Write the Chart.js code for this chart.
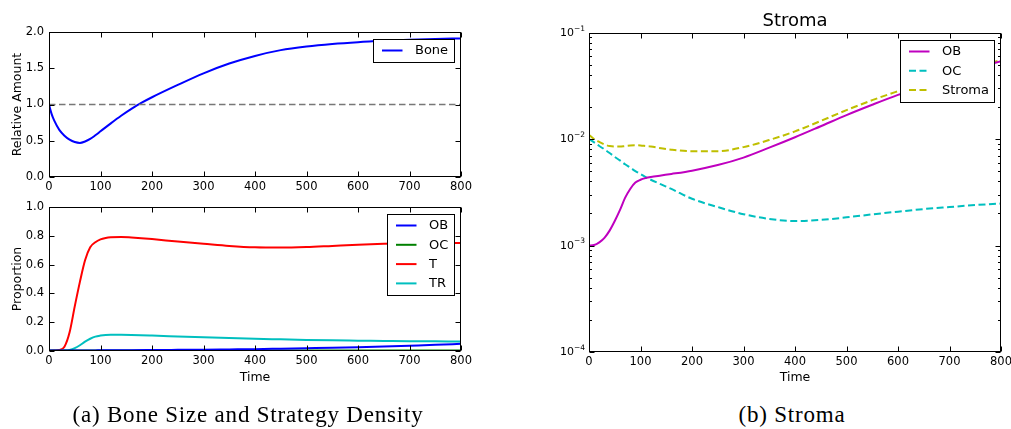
<!DOCTYPE html>
<html><head><meta charset="utf-8">
<script src="https://cdn.jsdelivr.net/npm/chart.js@4.4.0/dist/chart.umd.min.js"></script>
<style>
html,body{margin:0;padding:0;background:#fff;width:1011px;height:429px;overflow:hidden;position:relative;}
canvas{position:absolute;}
.cap{position:absolute;top:403px;font-family:"Liberation Serif",serif;font-size:23px;line-height:23px;letter-spacing:0.8px;color:#000;white-space:nowrap;transform:translateX(-50%);}
</style></head><body>
<canvas id="c1" width="480" height="200" style="left:0;top:0"></canvas>
<canvas id="c2" width="480" height="200" style="left:0;top:195px"></canvas>
<canvas id="c3" width="481" height="400" style="left:540px;top:0"></canvas>
<div class="cap" style="left:248px">(a) Bone Size and Strategy Density</div>
<div class="cap" style="left:792px">(b) Stroma</div>
<script>
// ---- data ----
const timeBone = [0,5,10,20,30,40,50,60,70,80,90,100,120,140,160,180,200,250,300,350,400,450,500,550,600,650,700,750,800];
const boneAmount = [1.0,0.87,0.78,0.65,0.57,0.515,0.482,0.47,0.49,0.525,0.575,0.63,0.74,0.845,0.94,1.025,1.10,1.27,1.43,1.565,1.67,1.75,1.80,1.835,1.86,1.878,1.892,1.903,1.912];
const boneRefLevel = 1.0;

const timeProp = [0,10,20,30,40,50,60,70,80,90,100,110,120,140,160,200,250,300,350,400,450,500,550,600,650,700,750,800];
const propOB = [0.004,0.004,0.004,0.004,0.004,0.004,0.004,0.004,0.004,0.004,0.005,0.005,0.005,0.005,0.006,0.007,0.008,0.009,0.011,0.013,0.016,0.019,0.022,0.026,0.031,0.037,0.043,0.05];
const propOC = [0.003,0.003,0.003,0.003,0.003,0.003,0.003,0.003,0.003,0.003,0.003,0.003,0.003,0.003,0.003,0.003,0.003,0.003,0.003,0.003,0.003,0.003,0.003,0.003,0.003,0.003,0.003,0.003];
const propT = [0.002,0.003,0.007,0.03,0.13,0.31,0.48,0.63,0.72,0.755,0.775,0.785,0.79,0.792,0.788,0.777,0.76,0.745,0.73,0.72,0.718,0.722,0.73,0.738,0.744,0.748,0.75,0.75];
const propTR = [0.002,0.002,0.002,0.003,0.008,0.02,0.04,0.065,0.085,0.1,0.107,0.111,0.112,0.112,0.111,0.107,0.101,0.095,0.09,0.085,0.081,0.077,0.074,0.072,0.07,0.068,0.067,0.066];

const timeStroma = [0,10,20,30,40,50,60,70,80,90,100,110,120,140,160,200,250,300,350,400,450,500,550,600,650,700,750,800];
const stromaOB = [1.0e-3,1.01e-3,1.07e-3,1.18e-3,1.38e-3,1.7e-3,2.15e-3,2.8e-3,3.4e-3,3.9e-3,4.15e-3,4.3e-3,4.4e-3,4.55e-3,4.7e-3,5.05e-3,5.7e-3,6.7e-3,8.3e-3,1.04e-2,1.32e-2,1.68e-2,2.1e-2,2.6e-2,3.15e-2,3.8e-2,4.6e-2,5.4e-2];
const stromaOC = [1.0e-2,9.3e-3,8.6e-3,8.0e-3,7.4e-3,6.8e-3,6.3e-3,5.8e-3,5.4e-3,5.0e-3,4.7e-3,4.4e-3,4.15e-3,3.75e-3,3.4e-3,2.75e-3,2.3e-3,1.97e-3,1.78e-3,1.7e-3,1.74e-3,1.84e-3,1.96e-3,2.08e-3,2.2e-3,2.3e-3,2.4e-3,2.48e-3];
const stromaStroma = [1.1e-2,1.0e-2,9.4e-3,8.9e-3,8.6e-3,8.5e-3,8.5e-3,8.6e-3,8.7e-3,8.75e-3,8.7e-3,8.6e-3,8.5e-3,8.2e-3,7.95e-3,7.7e-3,7.7e-3,8.4e-3,9.8e-3,1.18e-2,1.48e-2,1.87e-2,2.32e-2,2.82e-2,3.4e-2,4.0e-2,4.7e-2,5.55e-2];

const timeTicks = [0,100,200,300,400,500,600,700,800];
const boneTicks = [0,0.5,1.0,1.5,2.0];
const propTicks = [0,0.2,0.4,0.6,0.8,1.0];
const stromaTickValues = [1e-4,1e-3,1e-2,1e-1];
const stromaTickBase = '10';
const stromaTickExponents = ['\u22124','\u22123','\u22122','\u22121'];

// ---- helpers ----
Chart.defaults.font.family = '"DejaVu Sans", sans-serif';
Chart.defaults.color = '#000';
const pts = (xs, ys) => xs.map((x,i)=>({x, y: ys[i]}));
const TICK_FONT = {size: 11.5};
const TITLE_FONT = {size: 12.5};

const framePlugin = {
  id: 'frame',
  afterDraw(chart) {
    const {ctx, chartArea: ca} = chart;
    const L = Math.round(ca.left)+0.5, R = Math.round(ca.right)-0.5, T = Math.round(ca.top)+0.5, B = Math.round(ca.bottom)-0.5;
    const xs = chart.scales.x, ys = chart.scales.y;
    ctx.save();
    ctx.strokeStyle = '#000'; ctx.lineWidth = 1;
    ctx.beginPath();
    xs.ticks.forEach(t => {
      const p = Math.round(xs.getPixelForValue(t.value)) + 0.5;
      ctx.moveTo(p, B); ctx.lineTo(p, B-5);
      ctx.moveTo(p, T); ctx.lineTo(p, T+5);
    });
    ys.ticks.forEach(t => {
      const p = Math.round(ys.getPixelForValue(t.value)) + 0.5;
      ctx.moveTo(L, p); ctx.lineTo(L+5, p);
      ctx.moveTo(R, p); ctx.lineTo(R-5, p);
    });
    if (ys.type === 'logarithmic') {
      for (let d = -4; d < -1; d++) {
        for (let k = 2; k <= 9; k++) {
          const v = k * Math.pow(10, d);
          const p = Math.round(ys.getPixelForValue(v)) + 0.5;
          ctx.moveTo(L, p); ctx.lineTo(L+2.5, p);
          ctx.moveTo(R, p); ctx.lineTo(R-2.5, p);
        }
      }
    }
    ctx.stroke();
    ctx.strokeRect(L, T, R-L, B-T);
    // power-of-ten labels for the log axis
    if (ys.type === 'logarithmic') {
      ctx.fillStyle = '#000';
      ctx.textBaseline = 'middle';
      ctx.textAlign = 'left';
      ys.ticks.forEach((t, i) => {
        const p = ys.getPixelForValue(t.value);
        ctx.font = '7.5px "DejaVu Sans"';
        const ew = ctx.measureText(stromaTickExponents[i]).width;
        ctx.font = '11px "DejaVu Sans"';
        const bw = ctx.measureText(stromaTickBase).width;
        const xe = ca.left - 4;
        ctx.fillText(stromaTickBase, xe - ew - bw, p + 0.5);
        ctx.font = '7.5px "DejaVu Sans"';
        ctx.fillText(stromaTickExponents[i], xe - ew, p - 4);
      });
    }
    ctx.restore();
  }
};

const boxLegendPlugin = {
  id: 'boxLegend',
  afterDatasetsDraw(chart) {
    const o = chart.options.plugins.boxLegend;
    if (!o || !o.display) return;
    const {ctx, chartArea: ca} = chart;
    const items = chart.data.datasets.filter(d => !d.skipLegend);
    ctx.save();
    ctx.font = '13px "DejaVu Sans"';
    const tw = Math.max(...items.map(d => ctx.measureText(d.label).width));
    const padL = 8.5, sample = 20.5, gap = 12.5, padR = 6, rowH = 19.3, padT = 11, padB = 12;
    const w = Math.round(padL + sample + gap + tw + padR);
    const h = Math.round(padT + padB + (items.length-1)*rowH);
    const x0 = Math.round(ca.right - 7 - w) + 0.5, y0 = Math.round(ca.top + 7) + 0.5;
    ctx.fillStyle = '#fff'; ctx.fillRect(x0, y0, w, h);
    ctx.strokeStyle = '#000'; ctx.lineWidth = 1; ctx.strokeRect(x0, y0, w, h);
    items.forEach((d, i) => {
      const cy = y0 + padT + i*rowH;
      ctx.beginPath();
      ctx.strokeStyle = d.borderColor; ctx.lineWidth = d.borderWidth;
      ctx.setLineDash(d.borderDash || []);
      ctx.moveTo(x0 + padL, cy); ctx.lineTo(x0 + padL + sample, cy); ctx.stroke();
      ctx.setLineDash([]);
      ctx.fillStyle = '#000'; ctx.textBaseline = 'middle'; ctx.textAlign = 'left';
      ctx.fillText(d.label, x0 + padL + sample + gap, cy + 0.5);
    });
    ctx.restore();
  }
};

function lineDs(label, data, color, dash) {
  return {label, data, borderColor: color, backgroundColor: color, borderWidth: 2, pointRadius: 0,
    borderDash: dash || [], cubicInterpolationMode: 'monotone', fill: false};
}

function xScale(height, showTitle, titlePadBottom) {
  return {
    type: 'linear', min: 0, max: 800,
    afterBuildTicks: s => { s.ticks = timeTicks.map(v => ({value: v})); },
    ticks: {font: TICK_FONT, padding: 3, maxRotation: 0, autoSkip: false},
    grid: {display: false, drawTicks: false},
    border: {display: false},
    title: {display: showTitle, text: 'Time', font: TITLE_FONT, padding: {top: 0, bottom: titlePadBottom || 0}},
    afterFit: s => { s.height = height; }
  };
}
function yScale(min, max, ticks, title, fmt) {
  return {
    type: 'linear', min, max,
    afterBuildTicks: s => { s.ticks = ticks.map(v => ({value: v})); },
    ticks: {font: TICK_FONT, padding: 5, callback: fmt},
    grid: {display: false, drawTicks: false},
    border: {display: false},
    title: {display: !!title, text: title, font: TITLE_FONT, padding: {top: 10.5, bottom: 0}},
    afterFit: s => { s.width = 49; }
  };
}
const common = {
  responsive: false, animation: false, devicePixelRatio: 1,
  events: []
};

// ---- chart 1: bone ----
new Chart(document.getElementById('c1'), {
  type: 'line',
  data: {datasets: [
    Object.assign(lineDs('', [{x:0,y:boneRefLevel},{x:800,y:boneRefLevel}], '#777', [6.5,3.5]), {borderWidth: 1.5, skipLegend: true, cubicInterpolationMode: 'default', tension: 0}),
    lineDs('Bone', pts(timeBone, boneAmount), '#0000ff')
  ]},
  options: Object.assign({}, common, {
    layout: {padding: {top: 32, right: 19, left: 0, bottom: 0}},
    scales: {
      x: xScale(23, false),
      y: yScale(0, 2, boneTicks, 'Relative Amount', v => v.toFixed(1))
    },
    plugins: {legend: {display: false}, tooltip: {enabled: false}, boxLegend: {display: true}}
  }),
  plugins: [boxLegendPlugin, framePlugin]
});

// ---- chart 2: proportions ----
new Chart(document.getElementById('c2'), {
  type: 'line',
  data: {datasets: [
    lineDs('OB', pts(timeProp, propOB), '#0000ff'),
    lineDs('OC', pts(timeProp, propOC), '#008000'),
    lineDs('T', pts(timeProp, propT), '#ff0000'),
    lineDs('TR', pts(timeProp, propTR), '#00bfbf')
  ]},
  options: Object.assign({}, common, {
    layout: {padding: {top: 12, right: 19, left: 0, bottom: 0}},
    scales: {
      x: xScale(44, true, 9.8),
      y: yScale(0, 1, propTicks, 'Proportion', v => v.toFixed(1))
    },
    plugins: {legend: {display: false}, tooltip: {enabled: false}, boxLegend: {display: true}}
  }),
  plugins: [boxLegendPlugin, framePlugin]
});

// ---- chart 3: stroma ----
new Chart(document.getElementById('c3'), {
  type: 'line',
  data: {datasets: [
    lineDs('OB', pts(timeStroma, stromaOB), '#bf00bf'),
    lineDs('OC', pts(timeStroma, stromaOC), '#00bfbf', [7,3.5]),
    lineDs('Stroma', pts(timeStroma, stromaStroma), '#bfbf00', [7,3.5])
  ]},
  options: Object.assign({}, common, {
    layout: {padding: {top: 0, right: 20, left: 0, bottom: 0}},
    scales: {
      x: xScale(48, true, 14.8),
      y: {
        type: 'logarithmic', min: 1e-4, max: 1e-1,
        afterBuildTicks: s => { s.ticks = stromaTickValues.map(v => ({value: v})); },
        ticks: {display: false},
        grid: {display: false, drawTicks: false},
        border: {display: false},
        afterFit: s => { s.width = 49; }
      }
    },
    plugins: {
      legend: {display: false}, tooltip: {enabled: false},
      title: {display: true, text: 'Stroma', fullSize: false, font: {size: 18, weight: 'normal'}, color: '#000', padding: {top: 11, bottom: 0}},
      boxLegend: {display: true}
    }
  }),
  plugins: [boxLegendPlugin, framePlugin]
});
</script>
</body></html>
